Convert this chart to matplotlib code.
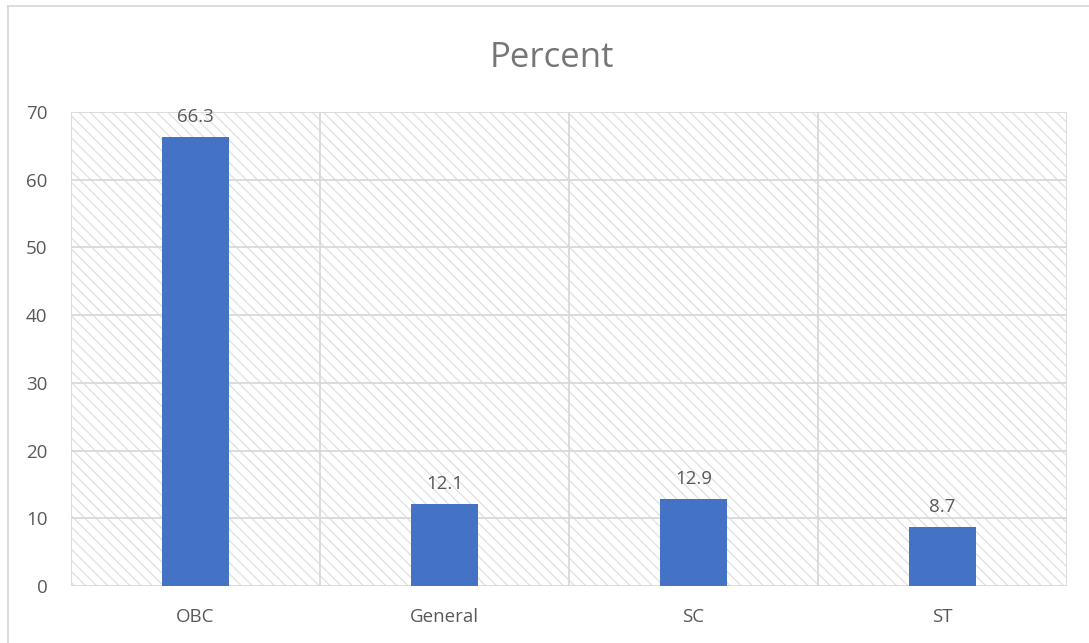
import matplotlib
matplotlib.use("Agg")
import matplotlib.pyplot as plt
from matplotlib.patches import Rectangle
from matplotlib.lines import Line2D

categories = ["OBC", "General", "SC", "ST"]
percent = [66.3, 12.1, 12.9, 8.7]
yticks = [0, 10, 20, 30, 40, 50, 60, 70]

TEXT = "#595959"
GRID = "#d9d9d9"
BAR = "#4472C4"

plt.rcParams["font.family"] = ["Open Sans", "DejaVu Sans"]
plt.rcParams["hatch.linewidth"] = 0.9

fig = plt.figure(figsize=(10.89, 6.43), dpi=100)
ax = fig.add_axes([0.0652, 0.0886, 0.9146, 0.7372])

x = list(range(len(categories)))
ax.set_xlim(-0.5, len(categories) - 0.5)
ax.set_ylim(0, 70)

# hatched plot-area background
bg = Rectangle((0, 0), 1, 1, transform=ax.transAxes, facecolor="white",
               edgecolor="#e0e0e0", linewidth=0, hatch="\\" * 3, zorder=0)
ax.add_patch(bg)

for y in yticks:
    ax.axhline(y, color=GRID, lw=1.3, zorder=1)
for b in [i + 0.5 for i in x]:
    ax.axvline(b, color=GRID, lw=1.3, zorder=1)
ax.axvline(-0.5, color=GRID, lw=1.3, zorder=1)

bars = ax.bar(x, percent, width=0.27, color=BAR, zorder=2)
for xi, v in zip(x, percent):
    ax.annotate(f"{v}", (xi, v), xytext=(0, 8), textcoords="offset points",
                ha="center", va="bottom", fontsize=13.5, color=TEXT)

for s in ax.spines.values():
    s.set_visible(False)
ax.set_xticks(x)
ax.set_xticklabels(categories)
ax.set_yticks(yticks)
ax.tick_params(length=0, labelsize=13.5, labelcolor=TEXT)
ax.tick_params(axis="x", pad=16)
ax.tick_params(axis="y", pad=17)

fig.text(0.507, 0.91, "Percent", ha="center", va="center", fontsize=25, color="#767676")

# chart border
fig.add_artist(Line2D([7.5 / 1089, 7.5 / 1089], [0, 1 - 6 / 643], transform=fig.transFigure,
                      color=GRID, lw=1.3))
fig.add_artist(Line2D([7.5 / 1089, 1], [1 - 6 / 643, 1 - 6 / 643], transform=fig.transFigure,
                      color=GRID, lw=1.3))

fig.savefig("out.png", dpi=100)
